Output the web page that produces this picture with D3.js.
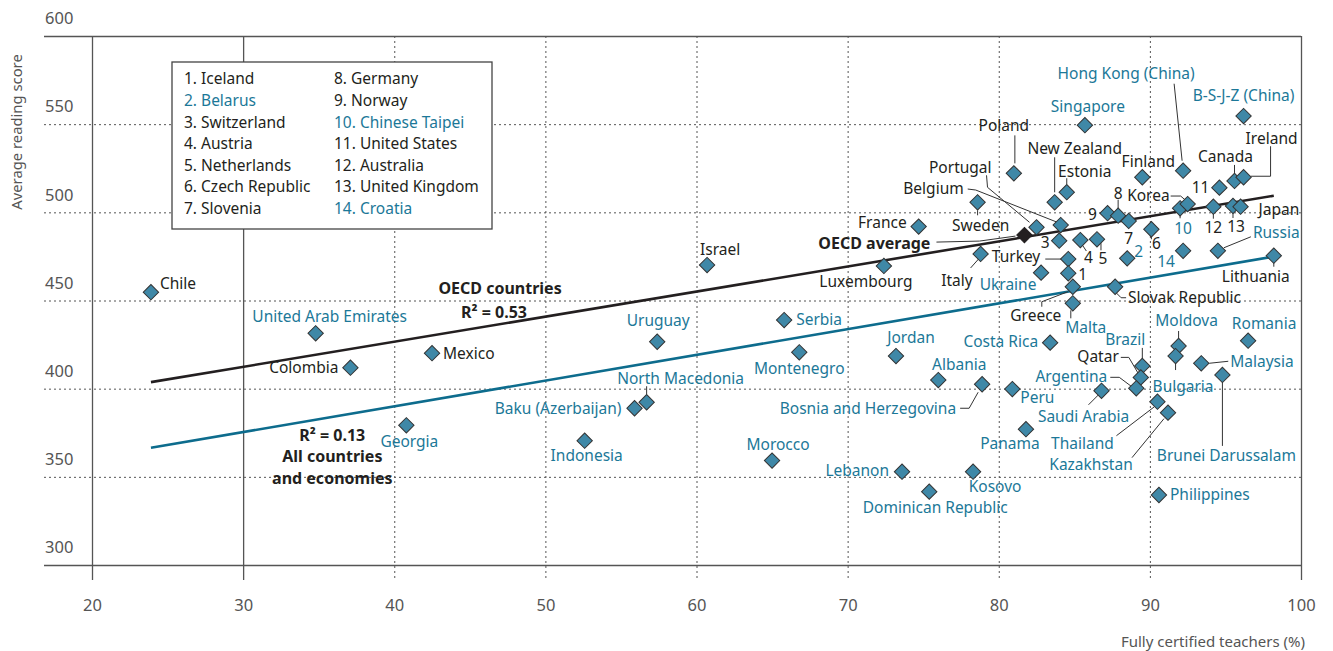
<!DOCTYPE html>
<html lang="en">
<head>
<meta charset="UTF-8">
<title>Fully certified teachers and reading performance</title>
<script src="https://cdn.jsdelivr.net/npm/d3@7"></script>
<style>
  body { margin: 0; background: #fff; }
  svg text { font-family: "Noto Sans", sans-serif; }
</style>
</head>
<body>
<div id="chart-space"></div>
<script>
// values
var countries = ["Chile", "United Arab Emirates", "Colombia", "Mexico", "Georgia", "Indonesia",
  "Baku (Azerbaijan)", "North Macedonia", "Uruguay", "Israel", "Serbia", "Montenegro", "Morocco",
  "Luxembourg", "France", "Jordan", "Lebanon", "Dominican Republic", "Albania",
  "Bosnia and Herzegovina", "Kosovo", "Peru", "Panama", "Sweden", "Italy", "Poland", "Estonia",
  "New Zealand", "Portugal", "Belgium", "Switzerland", "Austria", "Netherlands", "Norway",
  "Germany", "Slovenia", "Czech Republic", "Turkey", "Ukraine", "Iceland", "Greece", "Malta",
  "Slovak Republic", "Belarus", "Croatia", "Chinese Taipei", "Korea", "United States",
  "Australia", "United Kingdom", "Japan", "Canada", "Ireland", "Finland", "Hong Kong (China)",
  "Singapore", "B-S-J-Z (China)", "Russia", "Lithuania", "Costa Rica", "Brazil", "Qatar",
  "Argentina", "Saudi Arabia", "Thailand", "Kazakhstan", "Moldova", "Bulgaria", "Malaysia",
  "Brunei Darussalam", "Romania", "Philippines"];

var certified = [23.9, 34.8, 37.1, 42.5, 40.8, 52.6,
  55.9, 56.7, 57.4, 60.7, 65.8, 66.8, 65.0,
  72.4, 74.7, 73.2, 73.6, 75.4, 76.0,
  78.9, 78.3, 80.9, 81.8, 78.6, 78.8, 81.0, 84.5,
  83.7, 82.5, 84.1, 84.0, 85.4, 86.5, 87.2,
  87.9, 88.6, 90.1, 84.6, 82.8, 84.6, 84.9, 84.9,
  87.7, 88.5, 92.2, 92.0, 92.5, 94.6,
  94.2, 95.5, 96.0, 95.6, 96.2, 89.5, 92.2,
  85.7, 96.2, 94.5, 98.2, 83.4, 89.5, 89.4,
  89.1, 86.8, 90.5, 91.2, 91.9, 91.7, 93.4,
  94.8, 96.5, 90.6];

var reading = [454.7, 431.4, 411.9, 420.1, 379.2, 370.5,
  388.9, 392.3, 426.6, 470.1, 438.9, 420.6, 359.2,
  469.6, 491.9, 418.5, 352.9, 341.6, 404.9,
  402.5, 352.9, 399.8, 377.0, 505.7, 476.4, 522.1, 511.4,
  505.7, 491.5, 492.8, 483.9, 484.3, 484.7, 499.5,
  498.1, 495.1, 490.4, 473.5, 465.8, 465.4, 457.8, 448.4,
  457.8, 473.9, 478.2, 502.3, 504.7, 514.0,
  503.2, 503.6, 503.2, 517.8, 519.9, 519.9, 523.6,
  549.4, 554.6, 478.2, 475.4, 426.1, 412.9, 406.4,
  400.2, 398.8, 392.6, 386.4, 424.2, 418.5, 414.4,
  407.8, 427.2, 339.7];

// labels drawn in dark text (the rest are in blue)
var darkLabels = ["Chile", "Colombia", "Mexico", "Israel", "Luxembourg", "France", "Sweden",
  "Italy", "Poland", "Estonia", "New Zealand", "Portugal", "Belgium", "Switzerland", "Austria",
  "Netherlands", "Norway", "Germany", "Slovenia", "Czech Republic", "Turkey", "Iceland",
  "Greece", "Slovak Republic", "Korea", "United States", "Australia", "United Kingdom", "Japan",
  "Canada", "Ireland", "Finland", "Lithuania", "Qatar"];

// countries shown with a number, listed in the key
var numbered = ["Iceland", "Belarus", "Switzerland", "Austria", "Netherlands", "Czech Republic",
  "Slovenia", "Germany", "Norway", "Chinese Taipei", "United States", "Australia",
  "United Kingdom", "Croatia"];

var oecdAverage = [81.7, 487.1];

// fitted lines, end points
var oecdFit = [[23.9, 403.7], [98.2, 509.4]];
var allFit = [[23.9, 366.5], [98.2, 474.9]];

var xTicks = [20, 30, 40, 50, 60, 70, 80, 90, 100];
var yTicks = [300, 350, 400, 450, 500, 550, 600];

// label placement: dx, dy from the marker, anchor, leader line points (relative to marker)
var labelLayout = {
  "Chile": [9, -9, "start"],
  "United Arab Emirates": [14, -17, "middle"],
  "Colombia": [-12, 0, "end"],
  "Mexico": [11, 0, "start"],
  "Georgia": [3, 16, "middle"],
  "Indonesia": [2, 15, "middle"],
  "Baku (Azerbaijan)": [-13, 0, "end"],
  "North Macedonia": [34, -24, "middle", [[0, -16], [0, -8]]],
  "Uruguay": [1, -21, "middle"],
  "Israel": [13, -15, "middle"],
  "Serbia": [12, 0, "start"],
  "Montenegro": [0, 16, "middle"],
  "Morocco": [6, -16, "middle"],
  "Luxembourg": [-18, 16, "middle"],
  "France": [-12, -4, "end"],
  "Jordan": [15, -18, "middle"],
  "Lebanon": [-13, -1, "end"],
  "Dominican Republic": [6, 16, "middle"],
  "Albania": [21, -15, "middle"],
  "Bosnia and Herzegovina": [-26, 24, "end", [[-22, 24], [-13, 24], [-4, 8]]],
  "Kosovo": [22, 15, "middle"],
  "Peru": [8, 9, "start"],
  "Panama": [-16, 14, "middle"],
  "Sweden": [3, 23, "middle", [[0, 8], [0, 13]]],
  "Italy": [-8, 27, "end", [[-10, 14], [-2, 5]]],
  "Poland": [-10, -48, "middle", [[1, -38], [1, -10]]],
  "Estonia": [18, -21, "middle", [[0, -14], [0, -8]]],
  "New Zealand": [20, -54, "middle", [[0, -45], [0, -10]]],
  "Portugal": [-45, -60, "end", [[-50, -52], [-49, -40], [-7, -5]]],
  "Belgium": [-97, -36, "end", [[-93, -36], [-85, -35], [-4, -3]]],
  "Switzerland": [-14, 2, "middle"],
  "Austria": [8, 18, "middle", [[2, 5], [6, 11]]],
  "Netherlands": [6, 19, "middle", [[4, 4], [4, 11]]],
  "Norway": [-15, 1, "middle"],
  "Germany": [0, -22, "middle", [[0, -16], [0, -7]]],
  "Slovenia": [0, 18, "middle"],
  "Czech Republic": [5, 14, "middle", [[0, 6], [0, 10]]],
  "Turkey": [-28, -2, "end", [[-23, 0], [-7, 0]]],
  "Ukraine": [-33, 12, "middle"],
  "Iceland": [10, 1, "start"],
  "Greece": [-37, 29, "middle", [[-31, 20], [-31, 15], [-5, 5]]],
  "Malta": [13, 24, "middle", [[-2, 7], [-2, 15]]],
  "Slovak Republic": [13, 11, "start", [[1, 6], [6, 11], [11, 11]]],
  "Belarus": [7, -7, "start"],
  "Croatia": [-17, 11, "middle"],
  "Chinese Taipei": [3, 20, "middle", [[0, 6], [0, 10]]],
  "Korea": [-18, -8, "end", [[-17, -8], [-7, -8], [0, -2]]],
  "United States": [-10, 0, "end"],
  "Australia": [0, 21, "middle", [[0, 7], [0, 12]]],
  "United Kingdom": [3, 21, "middle", [[0, 7], [0, 12]]],
  "Japan": [18, 3, "start"],
  "Canada": [-9, -24, "middle", [[0, -16], [0, -8]]],
  "Ireland": [28, -39, "middle", [[27, -31], [27, -1], [7, -1]]],
  "Finland": [6, -16, "middle"],
  "Hong Kong (China)": [-57, -97, "middle", [[-9, -87], [-1, -10]]],
  "Singapore": [3, -19, "middle"],
  "B-S-J-Z (China)": [0, -20, "middle"],
  "Russia": [35, -18, "start", [[33, -14], [6, -3]]],
  "Lithuania": [-18, 21, "middle", [[0, 7], [0, 11]]],
  "Costa Rica": [-12, -1, "end"],
  "Brazil": [3, -26, "end", [[0, -18], [0, -6]]],
  "Qatar": [-22, -21, "end", [[-20, -20], [-12, -20], [-2, -3]]],
  "Argentina": [-29, -12, "end", [[-26, -11], [-17, -11], [-5, -2]]],
  "Saudi Arabia": [-18, 26, "middle", [[-13, 14], [-2, 3]]],
  "Thailand": [-75, 42, "middle", [[-41, 34], [-3, 5]]],
  "Kazakhstan": [-77, 52, "middle", [[-36, 45], [-4, 6]]],
  "Moldova": [8, -25, "middle", [[0, -15], [0, -6]]],
  "Bulgaria": [-23, 31, "start", [[0, 6], [0, 14]]],
  "Malaysia": [29, -2, "start", [[8, 0], [27, -2]]],
  "Brunei Darussalam": [4, 81, "middle", [[0, 7], [0, 71]]],
  "Romania": [16, -17, "middle"],
  "Philippines": [11, 0, "start"]
};

var width = 1333;
var height = 651;
var plot = {left: 44, right: 1301, top: 36, bottom: 565, tickEnd: 580};

var darkText = "#231f20";
var blueText = "#1c7898";
var markerFill = "#3f88a7";
var gridColor = "#555";

var svg = d3.select("#chart-space")
            .append("svg")
            .attr("width", width)
            .attr("height", height);

var xScale = d3.scaleLinear().domain([20, 100]).range([92, plot.right]);
var yScale = d3.scaleLinear().domain([300, 600]).range([plot.bottom, plot.top]);

// x axis (vertical grid lines)
var xAxis = d3.axisBottom(xScale)
              .tickValues(xTicks)
              .tickSize(plot.tickEnd - plot.top)
              .tickPadding(19);

var gx = svg.append("g")
            .attr("transform", "translate(0," + plot.top + ")")
            .call(xAxis);
gx.select(".domain").remove();
gx.selectAll(".tick line")
  .attr("stroke", gridColor)
  .attr("stroke-width", function(d){ return (d == 20 || d == 30 || d == 100) ? 1.3 : 1; })
  .attr("stroke-dasharray", function(d){ return (d == 20 || d == 30 || d == 100) ? null : "2,3"; });
gx.selectAll(".tick text")
  .attr("fill", "#555")
  .style("font-size", "16.5px");

// y axis (horizontal grid lines), labels sit above the line
var yAxis = d3.axisRight(yScale)
              .tickValues(yTicks)
              .tickSize(plot.right - plot.left);

var gy = svg.append("g")
            .attr("transform", "translate(" + plot.left + ",0)")
            .call(yAxis);
gy.select(".domain").remove();
gy.selectAll(".tick line")
  .attr("stroke", gridColor)
  .attr("stroke-width", function(d){ return (d == 300 || d == 600) ? 1.3 : 1; })
  .attr("stroke-dasharray", function(d){ return (d == 300 || d == 600) ? null : "2,3"; });
gy.selectAll(".tick text")
  .attr("x", 1)
  .attr("y", -18)
  .attr("dy", "0.35em")
  .attr("text-anchor", "start")
  .attr("fill", "#555")
  .style("font-size", "16.5px");

// axis titles
svg.append("text")
   .attr("transform", "translate(17,132) rotate(-90)")
   .attr("text-anchor", "middle")
   .attr("dy", "0.35em")
   .attr("fill", "#555")
   .style("font-size", "14.8px")
   .text("Average reading score");

svg.append("text")
   .attr("x", 1305)
   .attr("y", 642)
   .attr("text-anchor", "end")
   .attr("dy", "0.35em")
   .attr("fill", "#555")
   .style("font-size", "15px")
   .text("Fully certified teachers (%)");

// fitted lines
var line = d3.line()
             .x(function(d){ return xScale(d[0]); })
             .y(function(d){ return yScale(d[1]); });

svg.append("path").datum(allFit)
   .attr("d", line).attr("fill", "none")
   .attr("stroke", "#0d6c8d").attr("stroke-width", 2.6);

svg.append("path").datum(oecdFit)
   .attr("d", line).attr("fill", "none")
   .attr("stroke", "#231f20").attr("stroke-width", 2.6);

var points = countries.map(function(c, i){
  return {name: c, x: certified[i], y: reading[i]};
});

// leader lines
var leader = d3.line();
var leaders = svg.append("g");
points.forEach(function(p){
  var lay = labelLayout[p.name];
  if (!lay || !lay[3]) return;
  var px = xScale(p.x), py = yScale(p.y);
  leaders.append("path")
         .attr("d", leader(lay[3].map(function(o){ return [px + o[0], py + o[1]]; })))
         .attr("fill", "none")
         .attr("stroke", "#333")
         .attr("stroke-width", 1);
});

// OECD average leader
var avgX = xScale(oecdAverage[0]), avgY = yScale(oecdAverage[1]);
leaders.append("path")
       .attr("d", leader([[avgX - 88, avgY + 7], [avgX - 45, avgY + 6], [avgX - 9, avgY + 1]]))
       .attr("fill", "none").attr("stroke", "#333").attr("stroke-width", 1);

// markers
var diamond = d3.symbol().type(d3.symbolSquare).size(118);

svg.append("g")
   .selectAll("path")
   .data(points)
   .join("path")
   .attr("d", diamond)
   .attr("transform", function(d){
     return "translate(" + xScale(d.x) + "," + yScale(d.y) + ") rotate(45)";
   })
   .attr("fill", markerFill)
   .attr("stroke", "#333")
   .attr("stroke-width", 1);

svg.append("path")
   .attr("d", diamond)
   .attr("transform", "translate(" + avgX + "," + avgY + ") rotate(45)")
   .attr("fill", "#231f20")
   .attr("stroke", "#231f20");

// point labels
svg.append("g")
   .selectAll("text")
   .data(points)
   .join("text")
   .attr("x", function(d){ return xScale(d.x) + labelLayout[d.name][0]; })
   .attr("y", function(d){ return yScale(d.y) + labelLayout[d.name][1]; })
   .attr("dy", "0.35em")
   .attr("text-anchor", function(d){ return labelLayout[d.name][2]; })
   .attr("fill", function(d){ return darkLabels.indexOf(d.name) >= 0 ? darkText : blueText; })
   .style("font-size", "15.5px")
   .text(function(d){
     var n = numbered.indexOf(d.name);
     return n >= 0 ? String(n + 1) : d.name;
   });

svg.append("text")
   .attr("x", avgX - 94)
   .attr("y", avgY + 8)
   .attr("dy", "0.35em")
   .attr("text-anchor", "end")
   .attr("fill", darkText)
   .style("font-size", "16px")
   .style("font-weight", "bold")
   .text("OECD average");

// fit annotations
var notes = [
  ["OECD countries", 47.0, 457.1],
  ["R\u00b2 = 0.53", 46.6, 443.5],
  ["R\u00b2 = 0.13", 35.9, 373.6],
  ["All countries", 35.9, 361.5],
  ["and economies", 35.9, 349.1]
];
svg.append("g")
   .selectAll("text")
   .data(notes)
   .join("text")
   .attr("x", function(d){ return xScale(d[1]); })
   .attr("y", function(d){ return yScale(d[2]); })
   .attr("dy", "0.35em")
   .attr("text-anchor", "middle")
   .attr("fill", darkText)
   .style("font-size", "16px")
   .style("font-weight", "bold")
   .text(function(d){ return d[0]; });

// key of numbered countries
var key = svg.append("g");
key.append("rect")
   .attr("x", 172).attr("y", 62)
   .attr("width", 320).attr("height", 167)
   .attr("fill", "#fff")
   .attr("stroke", "#444")
   .attr("stroke-width", 1.3);

key.selectAll("text")
   .data(numbered)
   .join("text")
   .attr("x", function(d, i){ return i < 7 ? 184 : 334; })
   .attr("y", function(d, i){ return 79 + (i % 7) * 21.6; })
   .attr("dy", "0.35em")
   .attr("fill", function(d){ return darkLabels.indexOf(d) >= 0 ? darkText : blueText; })
   .style("font-size", "15.5px")
   .text(function(d, i){ return (i + 1) + ". " + d; });
</script>
</body>
</html>
